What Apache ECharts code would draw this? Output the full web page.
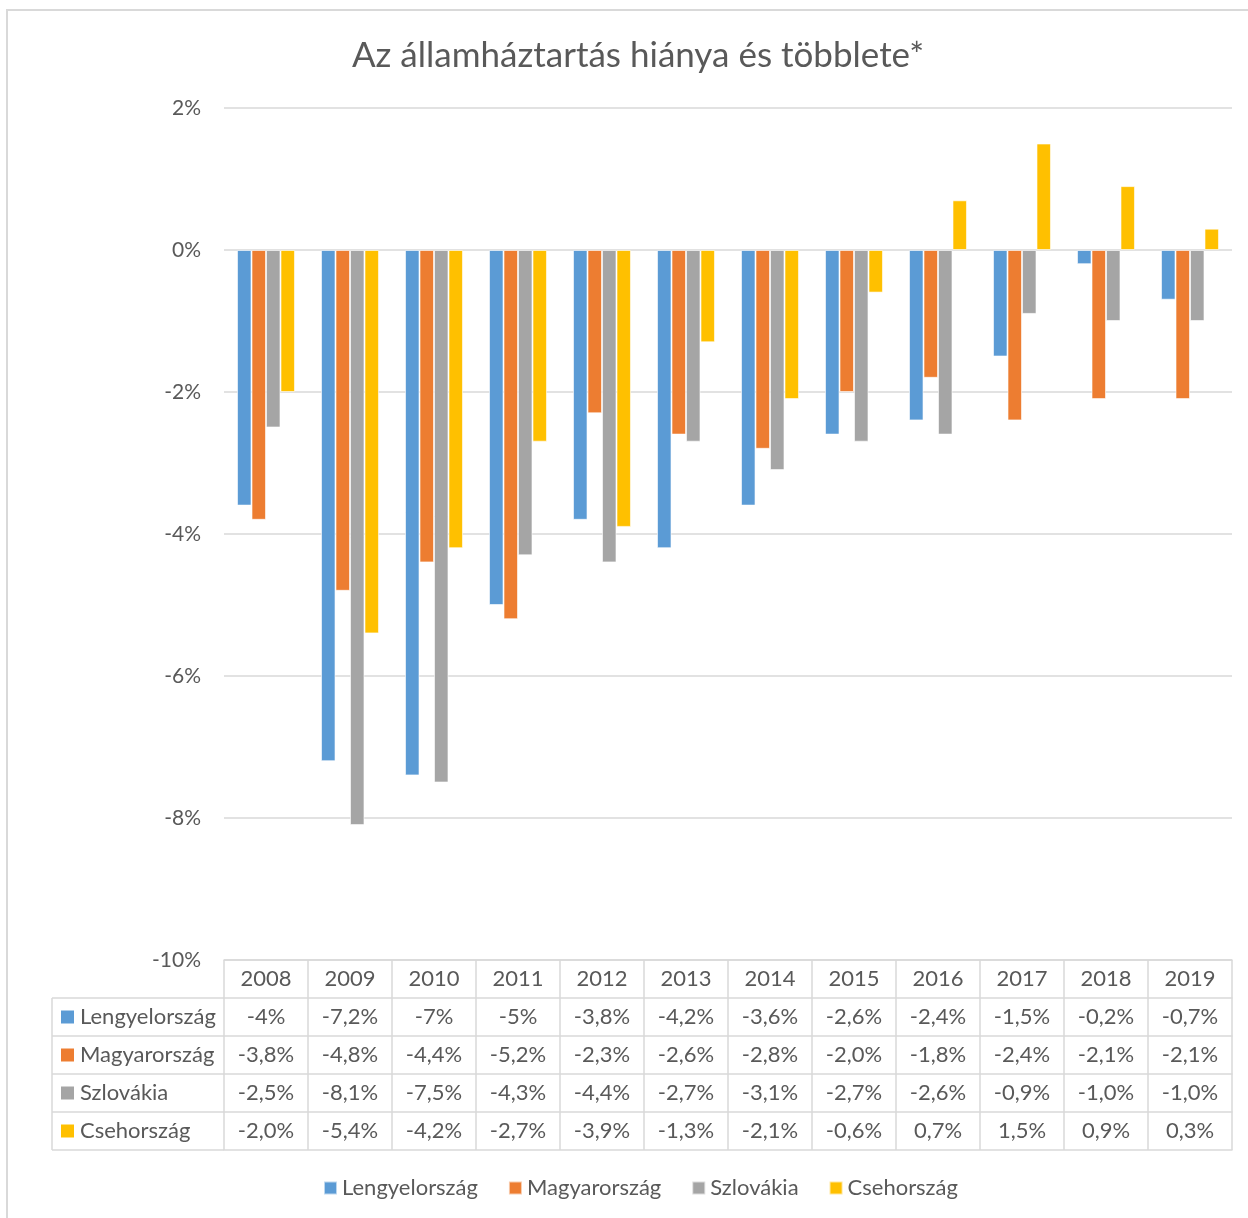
<!DOCTYPE html>
<html>
<head>
<meta charset="utf-8">
<script src="https://cdn.jsdelivr.net/npm/echarts@6/dist/echarts.min.js"></script>
<style>
html,body{margin:0;padding:0;background:#fff;}
#chart{width:1248px;height:1218px;}
</style>
</head>
<body>
<div id="chart"></div>
<script>
const years = ['2008','2009','2010','2011','2012','2013','2014','2015','2016','2017','2018','2019'];
const seriesNames = ['Lengyelország','Magyarország','Szlovákia','Csehország'];
const colors = ['#5B9BD5','#ED7D31','#A5A5A5','#FFC000'];

const lengyel = [-3.6,-7.2,-7.4,-5.0,-3.8,-4.2,-3.6,-2.6,-2.4,-1.5,-0.2,-0.7];
const magyar  = [-3.8,-4.8,-4.4,-5.2,-2.3,-2.6,-2.8,-2.0,-1.8,-2.4,-2.1,-2.1];
const szlovak = [-2.5,-8.1,-7.5,-4.3,-4.4,-2.7,-3.1,-2.7,-2.6,-0.9,-1.0,-1.0];
const cseh    = [-2.0,-5.4,-4.2,-2.7,-3.9,-1.3,-2.1,-0.6,0.7,1.5,0.9,0.3];

const lengyelLabels = ['-4%','-7,2%','-7%','-5%','-3,8%','-4,2%','-3,6%','-2,6%','-2,4%','-1,5%','-0,2%','-0,7%'];
const magyarLabels  = ['-3,8%','-4,8%','-4,4%','-5,2%','-2,3%','-2,6%','-2,8%','-2,0%','-1,8%','-2,4%','-2,1%','-2,1%'];
const szlovakLabels = ['-2,5%','-8,1%','-7,5%','-4,3%','-4,4%','-2,7%','-3,1%','-2,7%','-2,6%','-0,9%','-1,0%','-1,0%'];
const csehLabels    = ['-2,0%','-5,4%','-4,2%','-2,7%','-3,9%','-1,3%','-2,1%','-0,6%','0,7%','1,5%','0,9%','0,3%'];

const yTicks = {min: -10, max: 2, interval: 2};
const title = 'Az államháztartás hiánya és többlete*';

const FONT = 'Lato, "Open Sans", sans-serif';
const TXT = '#595959';
const LINE = '#D9D9D9';

const seriesData = [lengyel, magyar, szlovak, cseh];
const rowLabels = [lengyelLabels, magyarLabels, szlovakLabels, csehLabels];

const GRID = {left: 224, right: 16, top: 108, bottom: 258};
const ROW_H = 38;
const labelFS = 22;
const labelMargin = 8;

const xAxes = [{
  type: 'category', data: years, position: 'bottom', gridIndex: 0,
  axisLine: {show: true, onZero: false, lineStyle: {color: LINE, width: 1.5}},
  axisTick: {show: true, interval: 0, length: ROW_H*5, lineStyle: {color: LINE, width: 1.5}},
  axisLabel: {interval: 0, color: TXT, fontSize: labelFS, fontFamily: FONT, margin: labelMargin}
}];
rowLabels.forEach((arr, i) => {
  xAxes.push({
    type: 'category', data: arr, position: 'bottom', offset: ROW_H*(i+1), gridIndex: 0,
    axisLine: {show: true, onZero: false, lineStyle: {color: LINE, width: 1.5}},
    axisTick: {show: false},
    axisLabel: {interval: 0, color: TXT, fontSize: labelFS, fontFamily: FONT, margin: labelMargin}
  });
});
xAxes.push({
  type: 'category', data: years, position: 'bottom', offset: ROW_H*5, gridIndex: 0,
  axisLine: {show: true, onZero: false, lineStyle: {color: LINE, width: 1.5}},
  axisTick: {show: false}, axisLabel: {show: false}
});

const tableTop = 1218 - GRID.bottom;
const graphics = [
  {type: 'line', shape: {x1: 6, y1: 10, x2: 1248, y2: 10}, style: {stroke: LINE, lineWidth: 2}},
  {type: 'line', shape: {x1: 7, y1: 10, x2: 7, y2: 1218}, style: {stroke: LINE, lineWidth: 2}},
  {type: 'line', shape: {x1: 52, y1: tableTop + ROW_H, x2: 52, y2: tableTop + ROW_H*5}, style: {stroke: LINE, lineWidth: 1.5}}
];
for (let i = 1; i <= 5; i++) {
  graphics.push({type: 'line', shape: {x1: 52, y1: tableTop + ROW_H*i, x2: GRID.left, y2: tableTop + ROW_H*i}, style: {stroke: LINE, lineWidth: 1.5}});
}
seriesNames.forEach((n, i) => {
  const cy = tableTop + ROW_H*(i+1) + ROW_H/2;
  graphics.push({type: 'rect', shape: {x: 61, y: cy - 6.5, width: 13, height: 13}, style: {fill: colors[i]}});
  graphics.push({type: 'text', x: 80, y: cy, style: {text: n, fill: TXT, font: labelFS + 'px ' + FONT, textVerticalAlign: 'middle', verticalAlign: 'middle'}});
});

const chart = echarts.init(document.getElementById('chart'), null, {renderer: 'canvas'});
chart.setOption({
  backgroundColor: '#fff',
  animation: false,
  color: colors,
  title: {
    text: title, left: 633, top: 33, textAlign: 'center',
    textStyle: {color: TXT, fontSize: 35, fontWeight: 'normal', fontFamily: FONT}
  },
  legend: {
    data: seriesNames, bottom: 14, left: 318, itemWidth: 13, itemHeight: 13, itemGap: 30,
    icon: 'rect',
    textStyle: {color: TXT, fontSize: labelFS, fontFamily: FONT}
  },
  grid: GRID,
  xAxis: xAxes,
  yAxis: {
    type: 'value', min: yTicks.min, max: yTicks.max, interval: yTicks.interval,
    axisLine: {show: false}, axisTick: {show: false},
    splitLine: {lineStyle: {color: LINE, width: 1.5}},
    axisLabel: {color: TXT, fontSize: 21, fontFamily: FONT, margin: 23, formatter: v => v + '%'}
  },
  series: seriesNames.map((n, i) => ({
    name: n, type: 'bar', data: seriesData[i], xAxisIndex: 0,
    barGap: '0%', barCategoryGap: '31%',
    itemStyle: {color: colors[i], borderColor: 'rgba(255,255,255,0.6)', borderWidth: 1}
  })),
  graphic: graphics
});
</script>
</body>
</html>
